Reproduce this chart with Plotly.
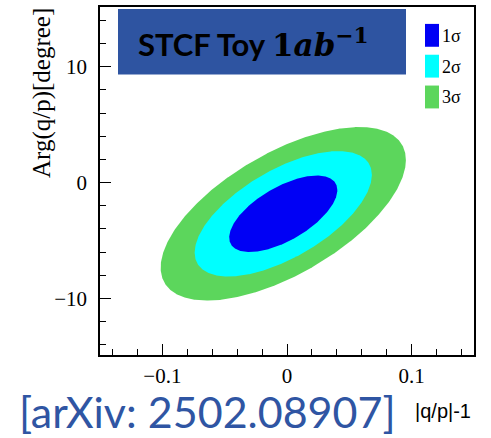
import numpy as np
import plotly.graph_objects as go

# Fit result: central value, uncertainties and correlation of (|q/p|-1, Arg(q/p))
center_x = -0.003
center_y = -2.7
sigma_x = 0.0286
sigma_y = 2.18
rho = 0.62

# Confidence regions (2 parameters): delta chi2 for 1, 2, 3 sigma
levels = ["1σ", "2σ", "3σ"]
delta_chi2 = [2.30, 6.18, 11.83]
colors = ["#0000F5", "#00FFFF", "#5CD65C"]

x_ticks = [-0.1, 0.0, 0.1]
x_tick_text = ["\u22120.1", "0", "0.1"]
y_ticks = [-10, 0, 10]
y_tick_text = ["\u221210", "0", "10"]

W, H = 491, 438
L, R, T, B = 100, 17, 5, 83
PW, PH = W - L - R, H - T - B


def px(xp):
    return (xp - L) / PW


def py(yp):
    return (H - B - yp) / PH


fig = go.Figure()

t = np.linspace(0, 2 * np.pi, 721)
# draw outermost region first so inner ones sit on top
for name, k, col in reversed(list(zip(levels, delta_chi2, colors))):
    r = np.sqrt(k)
    ex = center_x + r * sigma_x * np.cos(t)
    ey = center_y + r * sigma_y * (rho * np.cos(t) + np.sqrt(1 - rho ** 2) * np.sin(t))
    fig.add_trace(go.Scatter(x=ex, y=ey, mode="lines", fill="toself",
                             fillcolor=col, line=dict(width=0, color=col),
                             name=name, showlegend=False, hoverinfo="skip"))

serif = "Liberation Serif, Times New Roman, serif"
axis_common = dict(showgrid=False, zeroline=False, showline=True, mirror=True,
                   linecolor="black", linewidth=1.5, ticks="inside", ticklen=11,
                   tickwidth=1, tickcolor="black",
                   tickfont=dict(family=serif, size=21, color="black"))

fig.update_xaxes(range=[-0.15, 0.15], tickvals=x_ticks, ticktext=x_tick_text,
                 minor=dict(dtick=0.02, tick0=0, ticks="inside", ticklen=6,
                            tickcolor="black", tickwidth=1),
                 ticklabelstandoff=1, **axis_common)
fig.update_yaxes(range=[-14.9, 15.17], tickvals=y_ticks, ticktext=y_tick_text,
                 minor=dict(dtick=2, tick0=0, ticks="inside", ticklen=6,
                            tickcolor="black", tickwidth=1),
                 ticklabelstandoff=7, **axis_common)

shapes = []
annotations = []

# title box
shapes.append(dict(type="rect", xref="paper", yref="paper",
                   x0=px(118), x1=px(406), y0=py(73), y1=py(7),
                   fillcolor="#2E54A1", line=dict(width=0), layer="above"))
annotations.append(dict(
    xref="paper", yref="paper", x=px(136), y=py(41), xanchor="left", yanchor="middle",
    showarrow=False,
    text="<b>STCF Toy </b><span style=\"font-family:DejaVu Serif\"><b>1<i>ab</i>"
         "<sup>\u22121</sup></b></span>",
    font=dict(family="Lato, sans-serif", size=31, color="black")))

# legend
box_tops = [22, 53, 84]
for name, col, top in zip(levels, colors, box_tops):
    shapes.append(dict(type="rect", xref="paper", yref="paper",
                       x0=px(425), x1=px(439), y0=py(top + 23), y1=py(top),
                       fillcolor=col, line=dict(width=0), layer="above"))
    annotations.append(dict(xref="paper", yref="paper", x=px(440), y=py(top + 12),
                            xanchor="left", yanchor="middle", showarrow=False,
                            text=name, font=dict(family=serif, size=18, color="black")))

# axis titles
annotations.append(dict(xref="paper", yref="paper", x=px(42), y=py(4),
                        xanchor="center", yanchor="top", textangle=-90, showarrow=False,
                        text="Arg(q/p)[degree]",
                        font=dict(family=serif, size=25, color="black")))
annotations.append(dict(xref="paper", yref="paper", x=px(473), y=py(411),
                        xanchor="right", yanchor="middle", showarrow=False,
                        text="|q/p|-1",
                        font=dict(family="Liberation Sans, Arial, sans-serif", size=20,
                                  color="black")))
annotations.append(dict(xref="paper", yref="paper", x=px(17), y=py(412),
                        xanchor="left", yanchor="middle", showarrow=False,
                        text="[arXiv: 2502.08907]",
                        font=dict(family="Lato, sans-serif", size=43, color="#2F55A3")))

fig.update_layout(width=W, height=H, margin=dict(l=L, r=R, t=T, b=B),
                  plot_bgcolor="white", paper_bgcolor="white",
                  shapes=shapes, annotations=annotations, showlegend=False)

fig.write_html("out.html")
